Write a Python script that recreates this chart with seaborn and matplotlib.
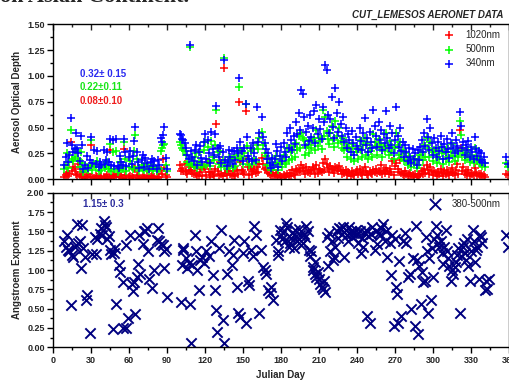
import numpy as np
import pandas as pd
import matplotlib
matplotlib.use("Agg")
import matplotlib.pyplot as plt
import seaborn as sns
from matplotlib.ticker import MultipleLocator

aod_day = [9, 10, 11, 12, 13, 14, 15, 16, 17, 18, 19, 20, 21, 22, 23, 24, 25, 27, 28, 29,
           30, 31, 32, 34, 35, 36, 37, 38, 40, 41, 42, 43, 44, 45, 46, 47, 48, 50, 51, 52,
           53, 54, 55, 56, 57, 58, 60, 61, 62, 63, 64, 65, 66, 67, 68, 70, 71, 72, 73, 74,
           76, 77, 78, 79, 80, 82, 83, 84, 85, 86, 87, 88, 89, 90,
           100, 101, 102, 103, 104, 105, 106, 107, 108, 109, 110, 111, 112, 113, 114, 115,
           116, 117, 118, 119, 120, 121, 122, 123, 124, 125, 126, 127, 128, 129, 130, 131,
           132, 133, 134, 135, 136, 137, 138, 139, 140, 141, 142, 143, 144, 145, 146, 147,
           148, 149, 150, 151, 152, 153, 154, 155, 156, 157, 158, 159, 160, 161, 162, 163,
           165, 166, 167, 168, 169, 170, 171, 172, 173, 174, 175, 176, 177, 178, 179, 180,
           181, 182, 183, 184, 185, 186, 187, 188, 189, 190, 191, 192, 193, 194, 195, 196,
           197, 198, 199, 200, 201, 202, 203, 204, 205, 206, 207, 208, 209, 210, 211, 212,
           213, 214, 215, 216, 217, 218, 219, 220, 221, 222, 223, 224, 225, 226, 227, 228,
           229, 230, 231, 232, 233, 234, 235, 236, 237, 238, 239, 240, 241, 242, 243, 244,
           245, 246, 247, 248, 249, 250, 251, 252, 253, 254, 255, 256, 257, 258, 259, 260,
           261, 262, 263, 264, 265, 266, 267, 268, 269, 270, 271, 272, 273, 274, 275, 276,
           277, 278, 279, 280, 281, 282, 283, 284, 285, 286, 287, 288, 289, 290, 291, 292,
           293, 294, 295, 296, 297, 298, 299, 300, 301, 302, 303, 304, 305, 306, 307, 308,
           309, 310, 311, 312, 313, 314, 315, 316, 317, 318, 319, 320, 321, 322, 323, 324,
           325, 326, 327, 328, 329, 330, 331, 332, 333, 334, 335, 336, 337, 338, 339, 340,
           341, 358, 359]

aod_340 = [.14, .22, .35, .17, .24, .59, .33, .26, .29, .45, .30, .25, .18, .42, .33, .10, .14, .23, .11, .19,
           .41, .16, .28, .15, .27, .12, .17, .14, .28, .15, .19, .26, .17, .39, .14, .38, .13, .39, .13, .11,
           .23, .17, .14, .39, .26, .13, .22, .27, .15, .23, .37, .51, .26, .17, .11, .19, .24, .12, .21, .16,
           .10, .17, .20, .13, .18, .10, .19, .14, .40, .36, .43, .51, .21, .10,
           .44, .43, .39, .38, .35, .30, .24, .20, 1.30, .27, .22, .18, .28, .33, .14, .26,
           .32, .21, .17, .36, .44, .20, .38, .25, .16, .46, .29, .24, .44, .71, .30, .22,
           .32, .16, .26, 1.15, .19, .13, .17, .28, .22, .27, .15, .27, .19, .30, .25, .98,
           .36, .27, .18, .30, .73, .41, .23, .20, .30, .18, .35, .25, .19, .70, .36, .45,
           .60, .41, .35, .29, .20, .25, .16, .11, .21, .14, .20, .34, .27, .12, .23, .31,
           .18, .35, .26, .22, .45, .30, .50, .38, .28, .42, .34, .55, .44, .64, .48, .86,
           .83, .60, .33, .46, .52, .37, .62, .41, .50, .66, .35, .72, .44, .58, .49, .39,
           .70, .55, 1.11, 1.06, .62, .45, .58, .80, .51, .40, .88, .64, .46, .75, .54, .42,
           .60, .36, .50, .30, .44, .38, .26, .47, .35, .24, .41, .32, .29, .50, .37, .28,
           .45, .59, .33, .40, .26, .46, .36, .30, .67, .52, .42, .31, .55, .38, .48, .28,
           .44, .35, .66, .40, .30, .52, .33, .45, .25, .38, .70, .42, .31, .50, .27, .36,
           .22, .33, .26, .18, .30, .22, .16, .29, .20, .25, .14, .28, .19, .31, .38, .26,
           .45, .32, .58, .41, .28, .50, .35, .24, .40, .30, .22, .36, .27, .42, .31, .20,
           .34, .26, .39, .29, .21, .35, .45, .30, .25, .38, .32, .27, .65, .52, .30, .36,
           .24, .33, .28, .37, .22, .31, .26, .20, .41, .29, .23, .27, .19, .25, .17, .22,
           .16, .22, .15]

aod_500 = [.10, .14, .25, .11, .17, .48, .20, .18, .22, .28, .26, .20, .12, .26, .16, .07, .10, .12, .09, .13,
           .38, .09, .14, .12, .18, .08, .13, .09, .14, .11, .13, .17, .10, .34, .08, .26, .10, .27, .07, .09,
           .17, .12, .10, .36, .20, .08, .12, .18, .12, .10, .27, .43, .20, .12, .08, .14, .10, .09, .15, .10,
           .08, .12, .14, .09, .12, .08, .11, .10, .27, .30, .33, .34, .14, .08,
           .36, .33, .30, .28, .27, .24, .17, .14, 1.28, .20, .15, .13, .22, .25, .11, .17,
           .26, .15, .12, .28, .36, .14, .31, .18, .13, .37, .22, .19, .33, .67, .26, .15,
           .27, .12, .19, 1.17, .14, .10, .13, .22, .18, .20, .11, .21, .13, .24, .20, .89,
           .28, .22, .15, .25, .73, .32, .20, .14, .27, .15, .29, .20, .17, .33, .29, .40,
           .46, .33, .25, .23, .14, .20, .13, .09, .16, .12, .16, .23, .16, .09, .15, .20,
           .12, .24, .17, .15, .30, .19, .30, .26, .20, .32, .22, .35, .28, .42, .30, .45,
           .40, .38, .24, .31, .33, .25, .38, .30, .36, .40, .28, .48, .32, .40, .37, .29,
           .67, .42, .60, .47, .39, .34, .45, .52, .38, .31, .56, .42, .35, .50, .37, .30,
           .40, .28, .35, .22, .31, .29, .20, .34, .26, .18, .30, .26, .20, .38, .28, .22,
           .33, .40, .24, .35, .20, .30, .27, .22, .44, .36, .32, .24, .39, .30, .34, .22,
           .32, .27, .45, .32, .24, .37, .26, .31, .20, .30, .45, .33, .24, .36, .21, .28,
           .18, .25, .19, .14, .23, .17, .12, .20, .15, .19, .11, .20, .14, .24, .26, .19,
           .33, .22, .40, .30, .22, .36, .26, .18, .28, .24, .16, .27, .20, .31, .25, .15,
           .27, .20, .30, .22, .17, .26, .34, .23, .18, .28, .25, .22, .56, .43, .24, .28,
           .19, .25, .22, .28, .17, .24, .20, .16, .30, .22, .18, .20, .15, .19, .13, .16,
           .12, .16, .12]

aod_1020 = [.02, .04, .06, .03, .05, .36, .08, .12, .10, .05, .04, .15, .03, .07, .02, .02, .01, .03, .05, .02,
            .33, .02, .01, .03, .02, .01, .02, .03, .02, .01, .02, .04, .02, .28, .01, .04, .03, .02, .05, .02,
            .12, .03, .01, .29, .04, .01, .02, .03, .02, .01, .11, .10, .04, .03, .01, .01, .02, .01, .01, .03,
            .01, .02, .03, .01, .02, .02, .01, .02, .09, .05, .20, .11, .04, .02,
            .14, .08, .10, .08, .15, .07, .05, .09, .12, .08, .06, .05, .12, .05, .04, .03,
            .07, .10, .03, .12, .10, .04, .17, .07, .02, .07, .05, .03, .10, .54, .08, .04,
            .17, .05, .03, 1.08, .06, .04, .08, .13, .05, .04, .08, .03, .04, .09, .05, .75,
            .17, .09, .07, .05, .66, .20, .12, .04, .10, .05, .08, .10, .06, .12, .07, .15,
            .21, .15, .10, .11, .09, .06, .05, .04, .06, .04, .03, .06, .04, .02, .03, .02,
            .02, .04, .03, .02, .05, .03, .06, .03, .09, .05, .04, .10, .08, .09, .07, .14,
            .11, .08, .05, .12, .07, .09, .06, .08, .12, .10, .05, .14, .06, .10, .08, .07,
            .16, .09, .20, .15, .11, .07, .13, .10, .09, .06, .12, .11, .08, .13, .09, .05,
            .08, .06, .09, .04, .07, .06, .03, .08, .05, .04, .07, .09, .05, .10, .06, .04,
            .08, .12, .07, .05, .04, .08, .06, .05, .09, .07, .10, .06, .08, .07, .14, .05,
            .09, .06, .11, .08, .05, .10, .07, .18, .04, .13, .16, .10, .07, .19, .06, .05,
            .04, .08, .05, .03, .04, .06, .03, .04, .02, .05, .02, .04, .03, .05, .08, .05,
            .10, .06, .14, .09, .05, .12, .07, .04, .08, .06, .03, .07, .05, .10, .06, .03,
            .08, .05, .09, .06, .04, .07, .11, .06, .04, .09, .15, .05, .48, .30, .08, .12,
            .05, .07, .04, .09, .03, .06, .05, .04, .11, .06, .04, .05, .03, .05, .03, .04,
            .02, .05, .04]

# Angstroem exponent 380-500nm observations
ae_day = [9, 10, 11, 12, 13, 14, 15, 16, 17, 18, 19, 20, 21, 22, 23, 24, 25, 26, 27, 29,
          31, 33, 34, 35, 37, 38, 39, 40, 41, 42, 43, 44, 45, 46, 47, 48, 49, 50, 52, 53,
          55, 55.5, 58, 58, 59, 61, 62, 63, 64, 65, 66, 67, 68, 69, 71, 72, 73, 74, 75, 76,
          78, 80, 82, 83, 84, 85, 87, 87.5, 88, 89, 90,
          101, 101.5, 102.5, 103, 105, 106, 107, 108, 109, 110, 112, 113, 114, 115, 116, 118,
          119, 121, 123, 125, 126, 127.5, 129, 129.5, 131, 133, 134, 135, 137, 139, 141, 142,
          143, 145, 146, 148, 150, 151, 152.5, 154, 155, 156.5, 158, 159, 160, 163, 164, 166,
          167, 168, 170, 171, 172, 174, 176, 177.5, 178,
          179, 180, 181, 182, 183, 184, 185, 186, 187, 188, 189, 190, 191, 192, 193, 194,
          195, 196, 197, 198, 199, 200, 201, 202, 203, 204, 205, 205.5, 206.5, 207, 208, 209,
          210, 211, 212, 213, 214, 215, 216, 217, 218, 219, 220, 221, 222, 223, 224, 225,
          226, 227, 228, 229, 230, 231, 232, 233, 234, 235, 236, 237, 238, 239, 240, 241,
          242, 243, 244, 245, 246, 247, 248, 249, 250, 251, 252, 254, 255, 256, 257, 258,
          259, 260.5, 262, 263, 264, 266, 267, 268, 269, 270, 271, 271.5, 272, 273.5, 275, 276,
          277.5, 279, 280, 282, 283, 284, 285.5, 286.5, 287, 288, 289,
          290.5, 291, 292, 293.5, 294.5, 295, 296, 297, 298.5, 299, 300, 301, 302.5, 303, 304, 305,
          306, 307, 308, 309, 310.5, 311, 312, 313, 314.5, 315, 316, 317, 318, 319, 320, 321,
          322, 323.5, 324.5, 325, 326.3, 327, 328, 329, 330, 331.5, 332, 333, 334, 335, 336, 337,
          338, 339, 340.8, 342, 343, 344, 358, 359]

ae_val = [1.37, 1.30, 1.45, 1.26, 1.24, 0.55, 1.20, 1.17, 1.30, 1.32, 1.60, 1.35, 1.37, 1.02, 1.58, 1.28, 1.17, 0.61, 0.68, 0.18,
          1.21, 1.43, 1.21, 1.40, 1.47, 1.54, 1.45, 1.64, 1.58, 1.55, 1.40, 1.44, 1.26, 1.21, 0.24, 1.22, 1.29, 0.56, 1.06, 0.97,
          0.84, 0.25, 0.25, 1.32, 0.38, 1.45, 0.82, 0.73, 0.85, 0.43, 0.91, 1.08, 1.45, 0.95, 1.34, 1.51, 1.50, 1.54, 1.24, 0.88,
          0.77, 1.00, 1.39, 1.54, 1.37, 1.33, 1.32, 1.02, 1.24, 1.27, 0.65,
          0.58, 1.06, 1.26, 1.29, 1.16, 1.02, 1.09, 0.56, 0.05, 1.07, 1.45, 1.24, 1.00, 0.74, 1.13, 1.17,
          1.09, 1.25, 1.18, 1.37, 0.93, 0.74, 0.48, 0.20, 1.28, 1.52, 0.35, 0.05, 0.95, 1.24, 1.06, 1.20,
          1.39, 0.78, 0.44, 0.39, 1.22, 1.37, 0.31, 0.86, 0.80, 1.26, 1.18, 1.57, 1.45, 0.44, 1.26, 1.04,
          1.00, 0.95, 0.74, 0.70, 0.78, 0.61, 1.39, 1.20, 1.25,
          1.52, 1.45, 1.40, 1.50, 1.38, 1.61, 1.55, 1.30, 1.35, 1.42, 1.48, 1.28, 1.52, 1.44, 1.38, 1.53,
          1.45, 1.32, 1.35, 1.47, 1.43, 1.57, 1.50, 1.26, 1.18, 1.24, 1.00, 1.04, 0.95, 1.10, 0.91, 0.98,
          0.88, 0.82, 0.78, 0.76, 0.86, 0.72, 1.43, 1.05, 1.48, 1.25, 1.38, 1.13, 1.17, 1.30, 1.50, 1.42,
          1.54, 1.53, 1.47, 1.56, 1.17, 1.52, 1.45, 1.38, 1.56, 1.50, 1.48, 1.43, 1.48, 1.52, 1.46, 1.35,
          1.50, 1.22, 1.42, 1.30, 1.48, 1.52, 0.40, 1.44, 0.32, 1.47, 1.56, 1.26, 1.50, 1.33, 1.48, 1.45,
          1.54, 1.59, 1.38, 1.50, 1.17, 1.35, 0.93, 1.45, 0.27, 1.40, 0.78, 0.69, 0.32, 1.11, 0.40, 1.38,
          1.48, 1.35, 0.91, 0.95, 0.50, 1.15, 0.27, 1.57, 1.13, 0.17, 1.05,
          0.56, 0.98, 0.85, 0.86, 1.43, 1.25, 0.44, 1.15, 0.61, 1.28, 0.91, 1.40, 1.57, 1.45, 1.35, 1.30,
          1.38, 1.22, 1.08, 1.30, 1.52, 1.25, 1.15, 1.05, 0.86, 1.00, 0.95, 1.04, 1.10, 1.20, 1.28, 0.44,
          1.18, 1.30, 1.35, 1.22, 1.13, 1.40, 1.05, 0.86, 1.25, 1.52, 1.38, 1.10, 1.26, 1.30, 0.88, 1.45,
          1.43, 1.35, 0.74, 0.86, 0.75, 0.88, 1.45, 1.30]

aod_stats = ["0.32\u00b1 0.15", "0.22\u00b10.11", "0.08\u00b10.10"]
ae_stats = "1.15\u00b1 0.3"

sns.set_style("ticks")
plt.rcParams["font.family"] = ["Liberation Sans", "DejaVu Sans"]
plt.rcParams["font.weight"] = "bold"
plt.rcParams["axes.linewidth"] = 1.0

W, H = 510, 381
fig = plt.figure(figsize=(W / 100, H / 100), dpi=100)


def fx(px):
    return px / W


def fy(py):
    return 1 - py / H


left, right = fx(53), fx(509)
ax1 = fig.add_axes([left, fy(179.3), right - left, fy(24.3) - fy(179.3)])
ax2 = fig.add_axes([left, fy(347.3), right - left, fy(192.7) - fy(347.3)])

aod = pd.DataFrame({"day": aod_day, "1020nm": aod_1020, "500nm": aod_500, "340nm": aod_340})
ae = pd.DataFrame({"day": ae_day, "ae": ae_val})

colors = {"1020nm": "#ff0000", "500nm": "#00ff00", "340nm": "#0000ff"}
for band in ["1020nm", "500nm", "340nm"]:
    sns.scatterplot(data=aod, x="day", y=band, ax=ax1, marker="+", color=colors[band],
                    s=28, linewidth=1.1, label=band, legend=False, clip_on=True)

sns.scatterplot(data=ae, x="day", y="ae", ax=ax2, marker="x", color="#000080",
                s=55, linewidth=1.4, label="380-500nm", legend=False)

for ax, ylim, ymaj in [(ax1, (0, 1.5), 0.25), (ax2, (0, 2.0), 0.25)]:
    ax.set_xlim(0, 360)
    ax.set_ylim(*ylim)
    ax.xaxis.set_major_locator(MultipleLocator(30))
    ax.xaxis.set_minor_locator(MultipleLocator(15))
    ax.yaxis.set_major_locator(MultipleLocator(ymaj))
    ax.yaxis.set_minor_locator(MultipleLocator(ymaj / 2))
    ax.yaxis.set_major_formatter(plt.FormatStrFormatter("%.2f"))
    ax.tick_params(axis="both", which="major", direction="out", length=4, width=1,
                   labelsize=6.5, pad=2, color="black")
    ax.tick_params(axis="both", which="minor", direction="out", length=2, width=1, color="black")
    for sp in ax.spines.values():
        sp.set_visible(True)
        sp.set_color("black")
    top = ax.secondary_xaxis("top")
    top.xaxis.set_major_locator(MultipleLocator(30))
    top.xaxis.set_minor_locator(MultipleLocator(15))
    top.tick_params(axis="x", which="major", direction="in", length=4, width=1, labeltop=False)
    top.tick_params(axis="x", which="minor", direction="in", length=2, width=1)
    top.spines["top"].set_visible(False)
    for lab in ax.get_yticklabels():
        lab.set_fontweight("bold")

ax1.tick_params(axis="x", labelbottom=False)
ax1.set_xlabel("")
ax1.set_ylabel("Aerosol Optical Depth", fontsize=7, fontweight="bold")
ax1.yaxis.set_label_coords(-0.068, 0.5)
ax2.set_ylabel("Angstroem Exponent", fontsize=7, fontweight="bold")
ax2.yaxis.set_label_coords(-0.068, 0.5)
ax2.set_xlabel("Julian Day", fontsize=7, fontweight="bold")
ax2.xaxis.set_label_coords(0.5, -0.147)
for lab in ax2.get_xticklabels():
    lab.set_fontweight("bold")

leg1 = ax1.legend(loc="upper left", bbox_to_anchor=(fx(444), fy(30)), bbox_transform=fig.transFigure,
                  frameon=False, fontsize=7, borderpad=0, handlelength=1.0, handletextpad=1.2,
                  labelspacing=0.42, borderaxespad=0)
for t in leg1.get_texts():
    t.set_fontweight("normal")
leg2 = ax2.legend(loc="upper left", bbox_to_anchor=(fx(428), fy(199)), bbox_transform=fig.transFigure,
                  frameon=False, fontsize=7, borderpad=0, handlelength=1.5, handletextpad=0.9,
                  borderaxespad=0, markerscale=1.1)
for t in leg2.get_texts():
    t.set_fontweight("normal")

stat_colors = ["#2a2af0", "#19e619", "#f01e1e"]
for i, (txt, c) in enumerate(zip(aod_stats, stat_colors)):
    fig.text(fx(80), fy(74 + 13.3 * i), txt, color=c, fontsize=7, fontweight="bold", va="center")
fig.text(fx(83), fy(204), ae_stats, color="#2e2e9e", fontsize=7, fontweight="bold", va="center")

fig.text(fx(352), fy(15), "CUT_LEMESOS AERONET DATA", fontsize=7, fontweight="bold",
         fontstyle="italic", va="center", ha="left")
# page heading above the chart, only its lower edge shows in the frame
fig.text(0.0, fy(1.5), "on Asian Continent.", fontsize=16, fontweight="bold",
         family="Liberation Serif", va="baseline", ha="left")

fig.savefig("out.png", dpi=100)
